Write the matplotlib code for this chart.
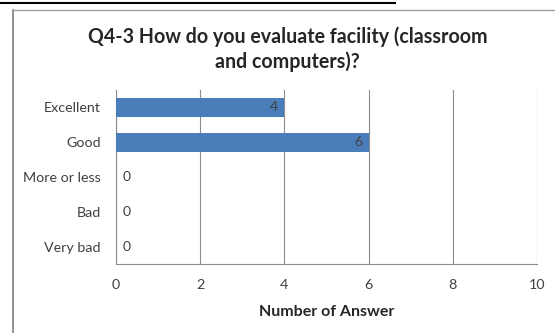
import matplotlib
matplotlib.use("Agg")
import matplotlib.pyplot as plt
from matplotlib.lines import Line2D

categories = ["Excellent", "Good", "More or less", "Bad", "Very bad"]
values = [4, 6, 0, 0, 0]
xticks = [0, 2, 4, 6, 8, 10]
title = "Q4-3 How do you evaluate facility (classroom\nand computers)?"
xlabel = "Number of Answer"

plt.rcParams['font.family'] = ['Lato', 'DejaVu Sans']

W, H = 555, 333
fig = plt.figure(figsize=(W / 100, H / 100), dpi=100)
fig.patch.set_facecolor("white")

# outer chart border (cut off on right/bottom) and top line
fig.add_artist(Line2D([13 / W, 13 / W], [0, 1 - 10 / H], color="#808080", lw=1.2))
fig.add_artist(Line2D([13 / W, 1], [1 - 10 / H, 1 - 10 / H], color="#A0A0A0", lw=1.0))
fig.add_artist(Line2D([0, 395 / W], [1 - 3 / H, 1 - 3 / H], color="black", lw=1.5))

ax = fig.add_axes([116 / W, (H - 264) / H, (537 - 116) / W, (264 - 90) / H])
ypos = list(range(len(categories)))
bars = ax.barh(ypos, values, height=0.55, color="#4A7EBB", linewidth=0, zorder=3)
ax.set_ylim(len(categories) - 0.5, -0.5)
ax.set_xlim(0, 10)
ax.set_xticks(xticks)
ax.set_xticklabels([str(t) for t in xticks])
ax.set_yticks(ypos)
ax.set_yticklabels(categories)
ax.grid(axis="x", color="#8C8C8C", lw=0.8, zorder=0)
for s in ["top", "right"]:
    ax.spines[s].set_visible(False)
for s in ["left", "bottom"]:
    ax.spines[s].set_color("#8C8C8C")
    ax.spines[s].set_linewidth(0.8)
ax.tick_params(axis="both", length=0, colors="#404040", labelsize=10.3)
ax.tick_params(axis="y", pad=11)
ax.tick_params(axis="x", pad=11)

for y, v in zip(ypos, values):
    if v > 0:
        ax.text(v - 0.15, y, str(v), ha="right", va="center", fontsize=10, color="#404040", zorder=4)
    else:
        ax.text(0.15, y, str(v), ha="left", va="center", fontsize=10, color="#404040", zorder=4)

ax.set_xlabel(xlabel, fontsize=11.5, fontweight="bold", color="#262626", labelpad=10)
fig.text(0.518, 1 - 49 / H, title, ha="center", va="center", fontsize=14.1,
         fontweight="bold", color="#262626", linespacing=1.3)

fig.savefig("out.png", dpi=100)
